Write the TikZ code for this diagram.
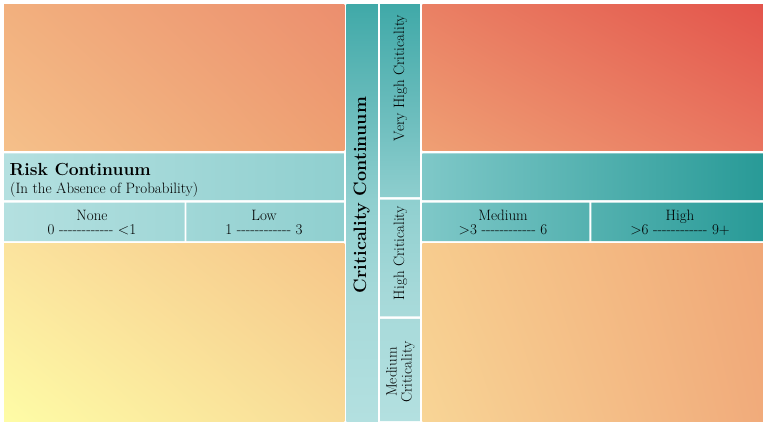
\documentclass[tikz,border=0pt]{standalone}
\usepackage{fontspec}
\usetikzlibrary{shadings}
% warm quadrant colours
\definecolor{tlUL}{HTML}{F2B07E}\definecolor{tlUR}{HTML}{EC8E6E}
\definecolor{tlLL}{HTML}{F5C08A}\definecolor{tlLR}{HTML}{EEA072}
\definecolor{trUL}{HTML}{EA8064}\definecolor{trUR}{HTML}{E3544B}
\definecolor{trLL}{HTML}{EFA074}\definecolor{trLR}{HTML}{E97560}
\definecolor{blUL}{HTML}{FBE39E}\definecolor{blUR}{HTML}{F6C689}
\definecolor{blLL}{HTML}{FEFCA6}\definecolor{blLR}{HTML}{F8DA97}
\definecolor{brUL}{HTML}{F7CC8E}\definecolor{brUR}{HTML}{F0A777}
\definecolor{brLL}{HTML}{F8D596}\definecolor{brLR}{HTML}{F1AB7B}
% teal colours
\definecolor{tealLa}{HTML}{B4E0E0}\definecolor{tealLb}{HTML}{8FCFCF}
\definecolor{tealRa}{HTML}{7FC8C8}\definecolor{tealRb}{HTML}{289A97}
\definecolor{cT}{HTML}{40A9A8}\definecolor{cMa}{HTML}{6EBEBE}
\definecolor{cMb}{HTML}{8FCFCF}\definecolor{cMc}{HTML}{A6D9D9}
\definecolor{cB}{HTML}{B3E0E0}
\pgfdeclareverticalshading{critshade}{100bp}{color(0bp)=(cB); color(25bp)=(cB); color(40bp)=(cMc); color(51.5bp)=(cMb); color(61bp)=(cMa); color(75bp)=(cT); color(100bp)=(cT)}
\newcommand\dashrun{-{}-{}-{}-{}-{}-{}-{}-{}-{}-{}-{}-}
\begin{document}
\begin{tikzpicture}[x=1pt,y=-1pt,
  txt/.style={inner sep=0pt, text=black, font=\fontsize{15}{14.5}\selectfont},
  bigtxt/.style={inner sep=0pt, text=black, font=\fontsize{17.5}{17.5}\selectfont\bfseries},
  celltxt/.style={txt, align=center, anchor=north},
  vtxt/.style={txt, rotate=90, anchor=mid}]
\useasboundingbox (0,0) rectangle (763,421);
\fill[white] (0,0) rectangle (763,421);
% warm quadrants
\shade[upper left=tlUL, upper right=tlUR, lower left=tlLL, lower right=tlLR] (4,4) rectangle (344.3,150.8);
\shade[upper left=trUL, upper right=trUR, lower left=trLL, lower right=trLR] (422.3,4) rectangle (763,150.8);
\shade[upper left=blUL, upper right=blUR, lower left=blLL, lower right=blLR] (4,243.5) rectangle (344.3,421);
\shade[upper left=brUL, upper right=brUR, lower left=brLL, lower right=brLR] (422.3,243.5) rectangle (763,421);
% teal band, left
\begin{scope}
  \clip (4,153.3) rectangle (344.3,200.2) (4,202.7) rectangle (184.5,241) (186.3,202.7) rectangle (344.3,241);
  \shade[left color=tealLa, right color=tealLb] (4,153.3) rectangle (344.3,241);
\end{scope}
% teal band, right
\begin{scope}
  \clip (422.3,153.3) rectangle (763,200.2) (422.3,202.7) rectangle (589.3,241) (591.3,202.7) rectangle (763,241);
  \shade[left color=tealRa, right color=tealRb] (422.3,153.3) rectangle (763,241);
\end{scope}
% criticality columns
\shade[shading=critshade] (346.3,4) rectangle (377.8,421);
\begin{scope}
  \clip (380,4) rectangle (420.3,197) (380,199.5) rectangle (420.3,316.3) (380,318.8) rectangle (420.3,421);
  \shade[shading=critshade] (380,4) rectangle (420.3,421);
\end{scope}
% texts
\node[bigtxt, anchor=base west] (risk) at (9.5,175) {Risk Continuum};
\node[txt, anchor=base west] (riskSub) at (10,193) {(In the Absence of Probability)};
\node[celltxt] (none) at (92,209.8) {None\\0 \dashrun{} \textless1};
\node[celltxt] (low) at (264,209.8) {Low\\1 \dashrun{} 3};
\node[celltxt] (medium) at (503,209.8) {Medium\\\textgreater3 \dashrun{} 6};
\node[celltxt] (high) at (680,209.8) {High\\\textgreater6 \dashrun{} 9+};
\node[bigtxt, rotate=90, anchor=mid, font=\fontsize{18}{18}\selectfont\bfseries] (critCont) at (364,195) {Criticality Continuum};
\node[vtxt] (veryHigh) at (402,78) {Very High Criticality};
\node[vtxt] (highCrit) at (402,253) {High Criticality};
\node[txt, rotate=90, align=center, font=\fontsize{15}{15}\selectfont] (medCrit) at (400.5,372) {Medium\\Criticality};
\end{tikzpicture}
\end{document}
